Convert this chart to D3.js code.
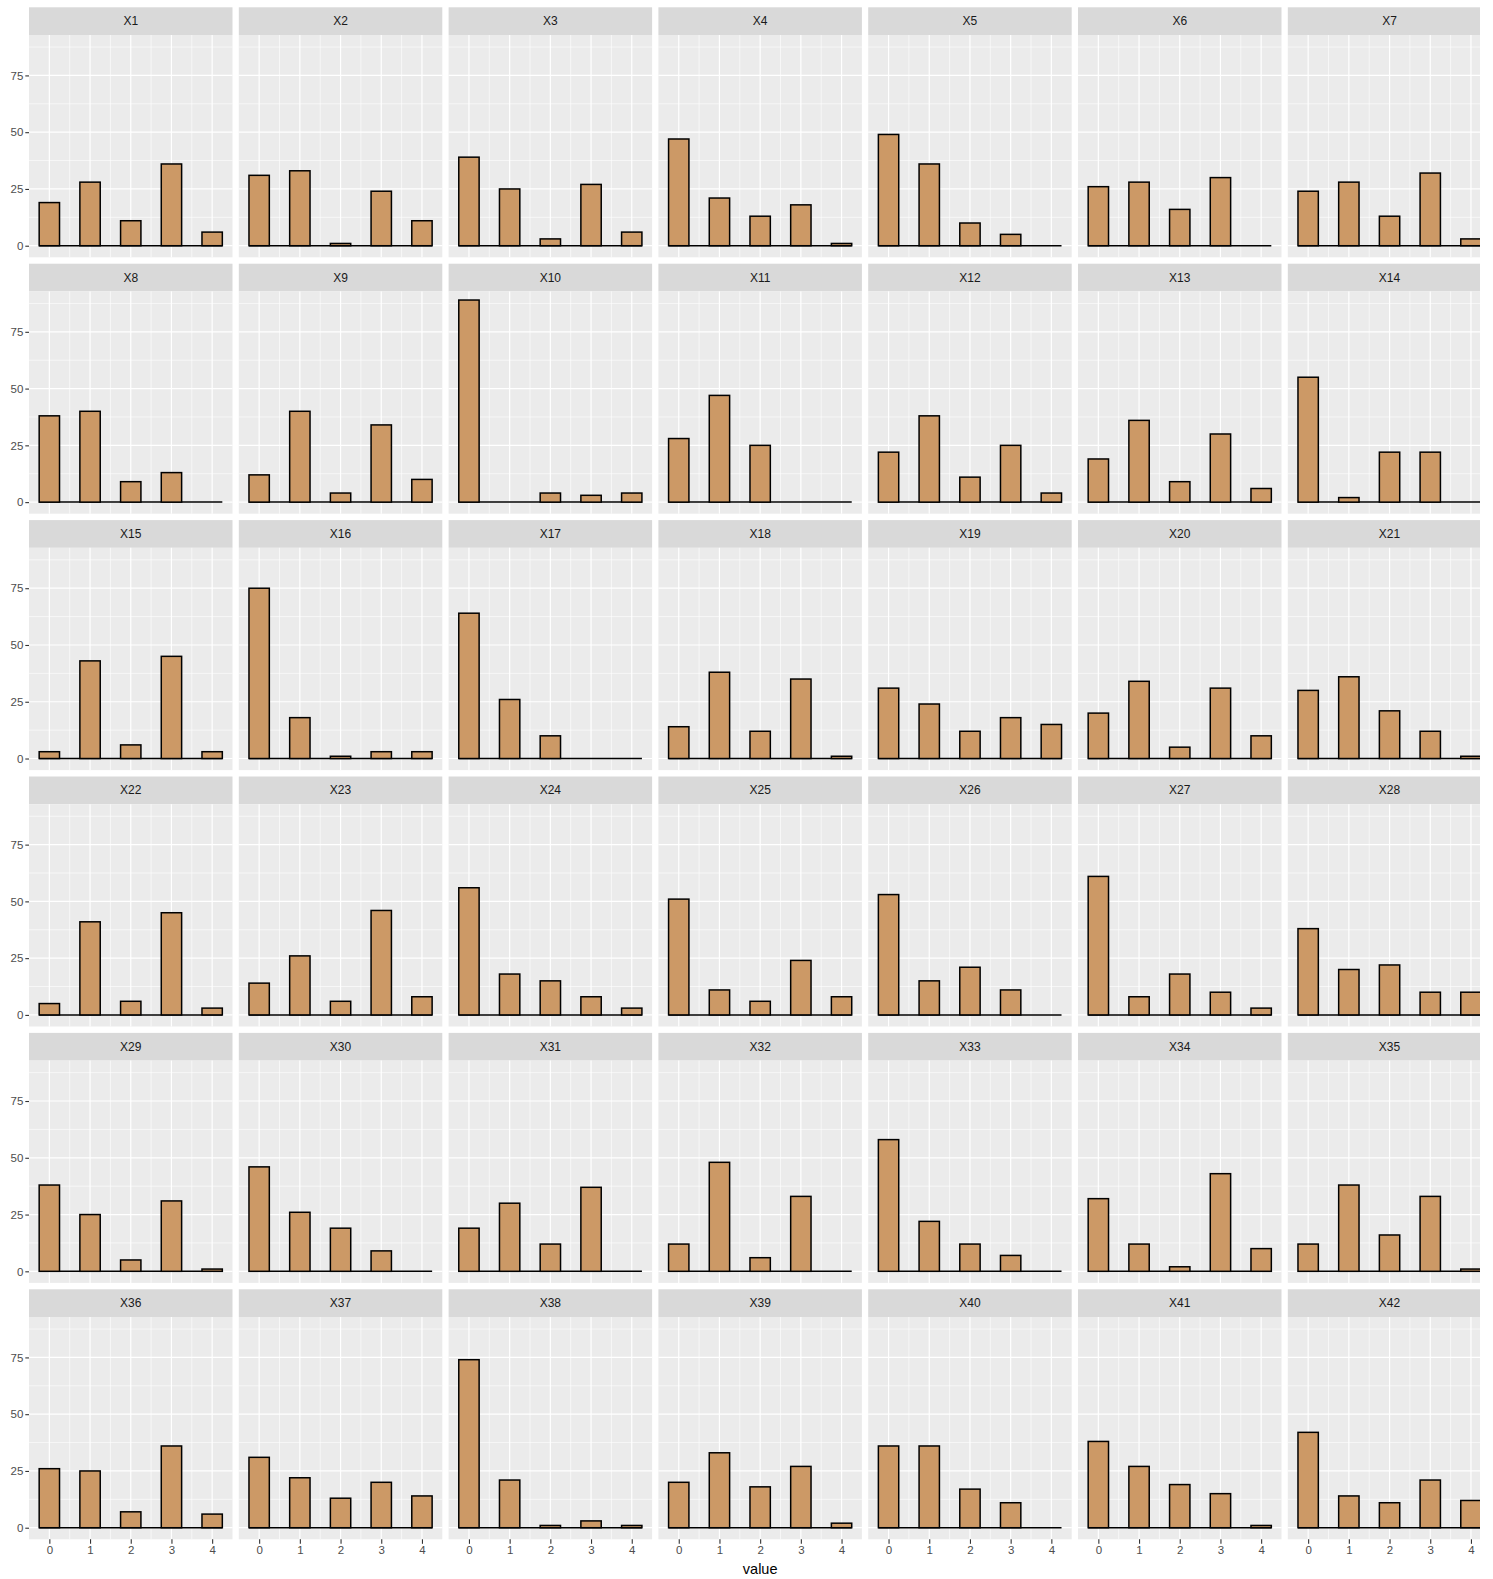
<!DOCTYPE html>
<html><head><meta charset="utf-8">
<script src="https://cdn.jsdelivr.net/npm/d3@7"></script>
<style>body{margin:0;background:#fff} svg{display:block}</style>
</head><body><svg id="chart" width="1493" height="1579"></svg>
<script>
// ---- data (counts per value 0..4 for each facet) ----
const xValues = [0, 1, 2, 3, 4];
const xTickLabels = ["0", "1", "2", "3", "4"];
const yTickValues = [0, 25, 50, 75];
const X1 = [19, 28, 11, 36, 6];
const X2 = [31, 33, 1, 24, 11];
const X3 = [39, 25, 3, 27, 6];
const X4 = [47, 21, 13, 18, 1];
const X5 = [49, 36, 10, 5, 0];
const X6 = [26, 28, 16, 30, 0];
const X7 = [24, 28, 13, 32, 3];
const X8 = [38, 40, 9, 13, 0];
const X9 = [12, 40, 4, 34, 10];
const X10 = [89, 0, 4, 3, 4];
const X11 = [28, 47, 25, 0, 0];
const X12 = [22, 38, 11, 25, 4];
const X13 = [19, 36, 9, 30, 6];
const X14 = [55, 2, 22, 22, 0];
const X15 = [3, 43, 6, 45, 3];
const X16 = [75, 18, 1, 3, 3];
const X17 = [64, 26, 10, 0, 0];
const X18 = [14, 38, 12, 35, 1];
const X19 = [31, 24, 12, 18, 15];
const X20 = [20, 34, 5, 31, 10];
const X21 = [30, 36, 21, 12, 1];
const X22 = [5, 41, 6, 45, 3];
const X23 = [14, 26, 6, 46, 8];
const X24 = [56, 18, 15, 8, 3];
const X25 = [51, 11, 6, 24, 8];
const X26 = [53, 15, 21, 11, 0];
const X27 = [61, 8, 18, 10, 3];
const X28 = [38, 20, 22, 10, 10];
const X29 = [38, 25, 5, 31, 1];
const X30 = [46, 26, 19, 9, 0];
const X31 = [19, 30, 12, 37, 0];
const X32 = [12, 48, 6, 33, 0];
const X33 = [58, 22, 12, 7, 0];
const X34 = [32, 12, 2, 43, 10];
const X35 = [12, 38, 16, 33, 1];
const X36 = [26, 25, 7, 36, 6];
const X37 = [31, 22, 13, 20, 14];
const X38 = [74, 21, 1, 3, 1];
const X39 = [20, 33, 18, 27, 2];
const X40 = [36, 36, 17, 11, 0];
const X41 = [38, 27, 19, 15, 1];
const X42 = [42, 14, 11, 21, 12];
const panelNames = Array.from({length: 42}, (_, i) => "X" + (i + 1));
const panelValues = [X1,X2,X3,X4,X5,X6,X7,X8,X9,X10,X11,X12,X13,X14,X15,X16,X17,X18,X19,X20,X21,
  X22,X23,X24,X25,X26,X27,X28,X29,X30,X31,X32,X33,X34,X35,X36,X37,X38,X39,X40,X41,X42];
const yLimits = [-5.1, 92.8];
const xLimits = [-0.5, 4.5];
const binWidth = 0.5;

// ---- layout ----
const W = 1493, H = 1579;
const nCols = 7, nRows = 6;
const left0 = 29, colStep = 209.8, panelW = 203.5;
const top0 = 7.3, rowStep = 256.4, stripH = 27.7, panelH = 222.3;
const cropRight = 1480;

const svg = d3.select("#chart");
svg.append("rect").attr("width", W).attr("height", H).attr("fill", "#fff");

const x = d3.scaleLinear().domain(xLimits).range([0, panelW]);
const y = d3.scaleLinear().domain(yLimits).range([panelH, 0]);

const fontFam = "'Liberation Sans', Arial, Helvetica, sans-serif";
const majorX = xValues;
const minorX = [0.5, 1.5, 2.5, 3.5];
const majorY = yTickValues;
const minorY = [12.5, 37.5, 62.5, 87.5];

panelNames.forEach((name, i) => {
  const c = i % nCols, r = Math.floor(i / nCols);
  const gx = left0 + c * colStep;
  const gy = top0 + r * rowStep;
  const g = svg.append("g").attr("transform", `translate(${gx},${gy})`);

  // strip
  g.append("rect").attr("width", panelW).attr("height", stripH).attr("fill", "#D9D9D9");
  g.append("text").attr("x", panelW / 2).attr("y", stripH / 2)
    .attr("text-anchor", "middle").attr("dominant-baseline", "central")
    .attr("font-family", fontFam).attr("font-size", 12).attr("fill", "#1A1A1A")
    .text(name);

  const p = g.append("g").attr("transform", `translate(0,${stripH})`);
  p.append("rect").attr("width", panelW).attr("height", panelH).attr("fill", "#EBEBEB");

  // grid
  p.selectAll(".minx").data(minorX).join("line")
    .attr("x1", d => x(d)).attr("x2", d => x(d)).attr("y1", 0).attr("y2", panelH)
    .attr("stroke", "#fff").attr("stroke-width", 0.6);
  p.selectAll(".miny").data(minorY).join("line")
    .attr("y1", d => y(d)).attr("y2", d => y(d)).attr("x1", 0).attr("x2", panelW)
    .attr("stroke", "#fff").attr("stroke-width", 0.6);
  p.selectAll(".majx").data(majorX).join("line")
    .attr("x1", d => x(d)).attr("x2", d => x(d)).attr("y1", 0).attr("y2", panelH)
    .attr("stroke", "#fff").attr("stroke-width", 1.2);
  p.selectAll(".majy").data(majorY).join("line")
    .attr("y1", d => y(d)).attr("y2", d => y(d)).attr("x1", 0).attr("x2", panelW)
    .attr("stroke", "#fff").attr("stroke-width", 1.2);

  // zero-count bins line (baseline)
  p.append("line")
    .attr("x1", x(xValues[0] - binWidth / 2)).attr("x2", x(xValues[xValues.length - 1] + binWidth / 2))
    .attr("y1", y(0)).attr("y2", y(0))
    .attr("stroke", "#000").attr("stroke-width", 1.5);

  // bars
  const vals = panelValues[i];
  p.selectAll(".bar").data(xValues.map((v, k) => ({v, n: vals[k]})).filter(d => d.n > 0)).join("rect")
    .attr("x", d => x(d.v - binWidth / 2))
    .attr("width", d => x(d.v + binWidth / 2) - x(d.v - binWidth / 2))
    .attr("y", d => y(d.n))
    .attr("height", d => y(0) - y(d.n))
    .attr("fill", "#CC9966").attr("stroke", "#000").attr("stroke-width", 1.5);

  // y axis on first column
  if (c === 0) {
    const ay = p.append("g").call(d3.axisLeft(y).tickValues(yTickValues).tickSize(3.7).tickPadding(2));
    ay.select(".domain").remove();
    ay.selectAll("line").attr("stroke", "#333333").attr("stroke-width", 1.1);
    ay.selectAll("text").attr("font-family", fontFam).attr("font-size", 11.5).attr("fill", "#4D4D4D");
  }
  // x axis on last row
  if (r === nRows - 1) {
    const ax = p.append("g").attr("transform", `translate(0,${panelH})`)
      .call(d3.axisBottom(x).tickValues(xValues).tickFormat((d, k) => xTickLabels[k]).tickSize(4.5).tickPadding(2));
    ax.select(".domain").remove();
    ax.selectAll("line").attr("stroke", "#333333").attr("stroke-width", 1.1);
    ax.selectAll("text").attr("font-family", fontFam).attr("font-size", 11.5).attr("fill", "#4D4D4D");
  }
});

// x axis title
const fullW = (nCols - 1) * colStep + panelW;
svg.append("text").attr("x", left0 + fullW / 2).attr("y", 1574)
  .attr("text-anchor", "middle").attr("font-family", fontFam).attr("font-size", 14.5).attr("fill", "#000")
  .text("value");

// right edge crop of the original image
svg.append("rect").attr("x", cropRight).attr("y", 0).attr("width", W - cropRight).attr("height", H).attr("fill", "#fff");
</script></body></html>
